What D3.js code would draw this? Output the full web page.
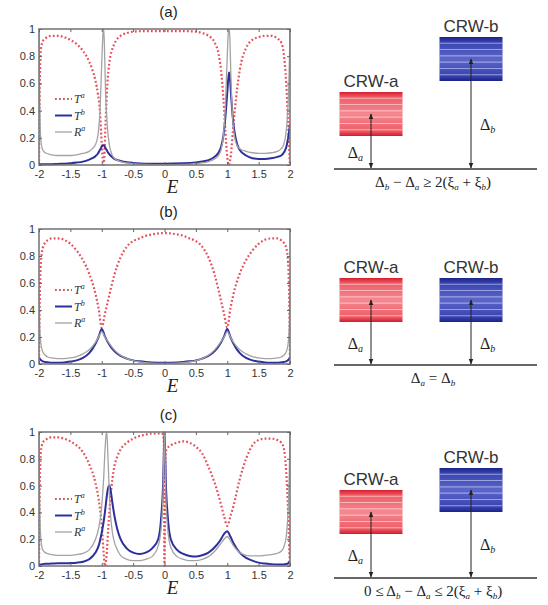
<!DOCTYPE html>
<html><head><meta charset="utf-8">
<script src="https://cdn.jsdelivr.net/npm/d3@7"></script>
<style>body{margin:0;background:#fff}svg{display:block}</style>
</head><body><svg id="c" width="548" height="605"></svg>
<script>
// ---------- data ----------
const E_a  = [-2,-1.99,-1.97,-1.94,-1.9,-1.8,-1.7,-1.6,-1.5,-1.4,-1.3,-1.2,-1.15,-1.1,-1.06,-1.03,-1.0,-0.98,-0.97,-0.96,-0.94,-0.91,-0.88,-0.84,-0.8,-0.7,-0.6,-0.5,-0.3,0,0.3,0.5,0.6,0.7,0.8,0.86,0.9,0.94,0.97,1.0,1.02,1.03,1.04,1.06,1.09,1.12,1.16,1.2,1.3,1.4,1.5,1.6,1.7,1.8,1.86,1.9,1.94,1.97,1.99,2];
const Ta_a = [0,0.5,0.85,0.91,0.93,0.95,0.95,0.94,0.92,0.89,0.84,0.76,0.7,0.62,0.52,0.4,0.15,0.02,0,0.05,0.3,0.6,0.75,0.84,0.89,0.95,0.97,0.98,0.985,0.985,0.985,0.98,0.97,0.95,0.9,0.82,0.7,0.48,0.25,0.06,0,0,0.02,0.08,0.25,0.4,0.57,0.7,0.86,0.92,0.94,0.95,0.95,0.93,0.9,0.82,0.6,0.3,0.08,0];
const Tb_a = [0.005,0.005,0.005,0.005,0.005,0.006,0.008,0.01,0.013,0.018,0.025,0.04,0.05,0.065,0.085,0.11,0.135,0.145,0.145,0.14,0.125,0.1,0.08,0.06,0.045,0.03,0.02,0.015,0.01,0.01,0.012,0.018,0.025,0.035,0.06,0.09,0.13,0.22,0.35,0.53,0.65,0.68,0.66,0.52,0.34,0.23,0.15,0.11,0.07,0.05,0.045,0.045,0.05,0.06,0.07,0.09,0.13,0.2,0.26,0.3];
const Ra_a = [1.0,0.5,0.18,0.11,0.09,0.075,0.07,0.07,0.07,0.075,0.085,0.1,0.12,0.15,0.22,0.38,0.75,0.97,1.0,0.92,0.55,0.28,0.15,0.08,0.05,0.025,0.015,0.01,0.005,0.003,0.005,0.01,0.015,0.025,0.045,0.07,0.11,0.22,0.42,0.8,0.99,1.0,0.95,0.62,0.32,0.2,0.14,0.12,0.1,0.09,0.085,0.085,0.09,0.1,0.12,0.15,0.25,0.45,0.75,1.0];

const E_b  = [-2,-1.99,-1.97,-1.94,-1.9,-1.85,-1.8,-1.7,-1.6,-1.5,-1.4,-1.3,-1.2,-1.1,-1.05,-1.0,-0.95,-0.9,-0.8,-0.7,-0.6,-0.5,-0.4,-0.3,-0.2,0,0.2,0.3,0.4,0.5,0.6,0.7,0.8,0.9,0.95,1.0,1.05,1.1,1.2,1.3,1.4,1.5,1.6,1.7,1.8,1.85,1.9,1.94,1.97,1.99,2];
const Ta_b = [0,0.4,0.75,0.86,0.9,0.92,0.93,0.93,0.92,0.89,0.84,0.77,0.67,0.52,0.41,0.27,0.37,0.47,0.66,0.79,0.87,0.91,0.93,0.95,0.96,0.97,0.96,0.95,0.93,0.91,0.87,0.79,0.66,0.47,0.37,0.27,0.41,0.52,0.67,0.77,0.84,0.89,0.92,0.93,0.93,0.92,0.9,0.86,0.75,0.4,0];
const Tb_b = [0.05,0.04,0.03,0.02,0.015,0.012,0.01,0.01,0.012,0.018,0.027,0.045,0.08,0.15,0.2,0.26,0.205,0.16,0.095,0.06,0.04,0.027,0.02,0.015,0.012,0.01,0.012,0.015,0.02,0.027,0.04,0.06,0.095,0.16,0.205,0.26,0.2,0.15,0.08,0.045,0.027,0.018,0.012,0.01,0.01,0.012,0.015,0.02,0.03,0.04,0.05];
const Ra_b = [0.5,0.3,0.15,0.09,0.065,0.05,0.045,0.04,0.04,0.045,0.055,0.075,0.105,0.16,0.2,0.24,0.2,0.165,0.105,0.065,0.04,0.025,0.015,0.01,0.007,0.005,0.007,0.01,0.015,0.025,0.04,0.065,0.105,0.165,0.2,0.24,0.2,0.16,0.105,0.075,0.055,0.045,0.04,0.04,0.045,0.05,0.065,0.09,0.15,0.3,0.5];

const E_c  = [-2,-1.99,-1.97,-1.94,-1.9,-1.8,-1.7,-1.6,-1.5,-1.4,-1.3,-1.2,-1.1,-1.05,-1.0,-0.97,-0.95,-0.93,-0.92,-0.9,-0.88,-0.86,-0.83,-0.8,-0.75,-0.7,-0.6,-0.5,-0.4,-0.3,-0.2,-0.1,-0.05,-0.02,-0.01,0,0.01,0.02,0.05,0.1,0.2,0.3,0.4,0.5,0.6,0.7,0.8,0.9,0.95,1.0,1.05,1.1,1.2,1.3,1.4,1.5,1.6,1.7,1.8,1.86,1.9,1.94,1.97,1.99,2];
const Ta_c = [0,0.5,0.85,0.92,0.94,0.96,0.96,0.95,0.93,0.9,0.85,0.76,0.62,0.5,0.3,0.1,0,0.05,0.1,0.25,0.4,0.52,0.65,0.74,0.82,0.87,0.92,0.95,0.97,0.98,0.99,0.99,0.99,0.98,0.9,0,0.6,0.85,0.88,0.9,0.92,0.93,0.92,0.89,0.84,0.74,0.62,0.46,0.37,0.3,0.37,0.45,0.65,0.8,0.9,0.94,0.95,0.95,0.94,0.92,0.88,0.7,0.4,0.1,0];
const Tb_c = [0.01,0.01,0.012,0.014,0.016,0.018,0.02,0.02,0.022,0.025,0.032,0.05,0.1,0.15,0.25,0.33,0.4,0.48,0.52,0.58,0.6,0.57,0.47,0.38,0.27,0.2,0.13,0.1,0.09,0.1,0.13,0.2,0.38,0.65,0.85,1.0,0.85,0.65,0.38,0.2,0.12,0.09,0.075,0.07,0.08,0.1,0.14,0.2,0.24,0.26,0.22,0.17,0.1,0.06,0.04,0.025,0.018,0.014,0.012,0.012,0.012,0.015,0.02,0.03,0.03];
const Ra_c = [1.0,0.5,0.2,0.12,0.1,0.085,0.08,0.08,0.08,0.085,0.095,0.12,0.2,0.28,0.45,0.65,0.85,0.98,1.0,0.8,0.55,0.38,0.25,0.18,0.12,0.08,0.05,0.04,0.04,0.05,0.07,0.15,0.3,0.6,0.85,1.0,0.8,0.55,0.28,0.14,0.07,0.05,0.04,0.04,0.05,0.07,0.11,0.17,0.2,0.22,0.19,0.15,0.1,0.08,0.075,0.075,0.08,0.085,0.095,0.11,0.14,0.22,0.42,0.72,1.0];

const xTicks = [-2,-1.5,-1,-0.5,0,0.5,1,1.5,2];
const xTickLabels = ["-2","-1.5","-1","-0.5","0","0.5","1","1.5","2"];
const yTicks = [0,0.2,0.4,0.6,0.8,1];
const yTickLabels = ["0","0.2","0.4","0.6","0.8","1"];
const panelTitles = ["(a)","(b)","(c)"];
const seriesNames = [["T","a"],["T","b"],["R","a"]];
const crwLabels = ["CRW-a","CRW-b"];
// schematic level heights (arbitrary units) and band half-widths
const deltaA = [55, 65, 66];
const deltaB = [110, 65, 88];
const bandHalf = [22, 22, 22];

// ---------- layout ----------
const svg = d3.select("#c");
const plotL = 39, plotR = 290;
const tops = [29, 229, 432], bottoms = [165, 364, 566];
const legendOff = [70, 61, 67];
const baselines = [169, 365, 578];
const sans = "'Liberation Sans', Arial, sans-serif";
const serif = "'Liberation Serif', 'Times New Roman', serif";

const panels = [
  {E:E_a, s:[Ta_a,Tb_a,Ra_a]},
  {E:E_b, s:[Ta_b,Tb_b,Ra_b]},
  {E:E_c, s:[Ta_c,Tb_c,Ra_c]}
];
const styles = [
  {stroke:"#e4505a", width:2.2, dash:"1.8,2.2"},
  {stroke:"#2c2f9c", width:2.0, dash:null},
  {stroke:"#a3a3a3", width:1.3, dash:null}
];

const defs = svg.append("defs");
const gr = defs.append("linearGradient").attr("id","gRed").attr("x1",0).attr("y1",0).attr("x2",0).attr("y2",1);
gr.append("stop").attr("offset","0").attr("stop-color","#d81c30");
gr.append("stop").attr("offset","0.12").attr("stop-color","#ee5e68");
gr.append("stop").attr("offset","0.5").attr("stop-color","#f48890");
gr.append("stop").attr("offset","0.88").attr("stop-color","#ee5e68");
gr.append("stop").attr("offset","1").attr("stop-color","#d41a2c");
const gb = defs.append("linearGradient").attr("id","gBlue").attr("x1",0).attr("y1",0).attr("x2",0).attr("y2",1);
gb.append("stop").attr("offset","0").attr("stop-color","#1c2288");
gb.append("stop").attr("offset","0.12").attr("stop-color","#3a44b0");
gb.append("stop").attr("offset","0.5").attr("stop-color","#5c66c8");
gb.append("stop").attr("offset","0.88").attr("stop-color","#3a44b0");
gb.append("stop").attr("offset","1").attr("stop-color","#1c2288");
defs.append("marker").attr("id","arr").attr("viewBox","0 0 10 10")
  .attr("refX",9).attr("refY",5).attr("markerWidth",6).attr("markerHeight",6)
  .attr("orient","auto-start-reverse")
  .append("path").attr("d","M0,1 L10,5 L0,9 z").attr("fill","#222");

panels.forEach((p, i) => {
  const x = d3.scaleLinear().domain([-2,2]).range([plotL, plotR]);
  const y = d3.scaleLinear().domain([0,1]).range([bottoms[i], tops[i]]);
  const g = svg.append("g");
  const cid = "clip"+i;
  defs.append("clipPath").attr("id",cid).append("rect")
    .attr("x",plotL).attr("y",tops[i]-1).attr("width",plotR-plotL).attr("height",bottoms[i]-tops[i]+2);

  g.append("text").attr("x",(plotL+plotR)/2+4).attr("y",tops[i]-12)
    .attr("text-anchor","middle").attr("font-family",sans).attr("font-size",15)
    .attr("fill","#222").text(panelTitles[i]);

  const lg = g.append("g").attr("clip-path",`url(#${cid})`);
  p.s.forEach((vals, k) => {
    const line = d3.line().x((d,j)=>x(p.E[j])).y(d=>y(d)).curve(d3.curveMonotoneX);
    const path = lg.append("path").datum(vals).attr("d",line).attr("fill","none")
      .attr("stroke",styles[k].stroke).attr("stroke-width",styles[k].width)
      .attr("stroke-linejoin","round");
    if (styles[k].dash) path.attr("stroke-dasharray",styles[k].dash);
  });

  g.append("rect").attr("x",plotL).attr("y",tops[i]).attr("width",plotR-plotL)
    .attr("height",bottoms[i]-tops[i]).attr("fill","none").attr("stroke","#7a7a7a").attr("stroke-width",1.6);

  const xb = d3.axisBottom(x).tickValues(xTicks).tickSize(-3).tickPadding(5)
    .tickFormat((d,j)=>xTickLabels[j]);
  const xa = g.append("g").attr("transform",`translate(0,${bottoms[i]})`).call(xb);
  const xt = g.append("g").attr("transform",`translate(0,${tops[i]})`).call(d3.axisTop(x).tickValues(xTicks).tickSize(-3).tickFormat(""));
  const yl = d3.axisLeft(y).tickValues(yTicks).tickSize(-3).tickPadding(4)
    .tickFormat((d,j)=>yTickLabels[j]);
  const ya = g.append("g").attr("transform",`translate(${plotL},0)`).call(yl);
  const yr = g.append("g").attr("transform",`translate(${plotR},0)`).call(d3.axisRight(y).tickValues(yTicks).tickSize(-3).tickFormat(""));
  [xa,xt,ya,yr].forEach(a=>{
    a.select(".domain").remove();
    a.selectAll(".tick line").attr("stroke","#666");
    a.selectAll("text").attr("font-family",sans).attr("font-size",11).attr("fill","#333");
  });

  g.append("text").attr("x",(plotL+plotR)/2+8).attr("y",bottoms[i]+28)
    .attr("text-anchor","middle").attr("font-family",serif).attr("font-style","italic")
    .attr("font-size",19).attr("fill","#222").text("E");

  seriesNames.forEach((nm,k)=>{
    const ly = tops[i]+legendOff[i]+k*16.5;
    const l = g.append("line").attr("x1",55).attr("x2",72).attr("y1",ly).attr("y2",ly)
      .attr("stroke",styles[k].stroke).attr("stroke-width",styles[k].width);
    if (styles[k].dash) l.attr("stroke-dasharray",styles[k].dash);
    const t = g.append("text").attr("x",74).attr("y",ly+4).attr("font-family",serif)
      .attr("font-style","italic").attr("font-size",12).attr("fill","#333");
    t.append("tspan").text(nm[0]);
    t.append("tspan").attr("dy",-5).attr("font-size",8).text(nm[1]);
  });

  // ---------- schematic ----------
  const base = baselines[i];
  const yd = d3.scaleLinear().domain([0,1]).range([base, base-1]);
  const xd = d3.scalePoint().domain(crwLabels).range([371, 471]);
  const bw = 63;
  const sg = svg.append("g");
  sg.append("line").attr("x1",334).attr("x2",537).attr("y1",base).attr("y2",base)
    .attr("stroke","#333").attr("stroke-width",1.6);
  const levels = [deltaA[i], deltaB[i]];
  crwLabels.forEach((lab, k) => {
    const cx = xd(lab), lev = levels[k], h = bandHalf[i];
    const top = yd(lev + h), bot = yd(lev - h);
    sg.append("rect").attr("x",cx-bw/2).attr("y",top).attr("width",bw).attr("height",bot-top)
      .attr("fill", k===0 ? "url(#gRed)" : "url(#gBlue)");
    d3.range(1,7).forEach(m=>{
      const yy = top + (bot-top)*m/7;
      sg.append("line").attr("x1",cx-bw/2).attr("x2",cx+bw/2).attr("y1",yy).attr("y2",yy)
        .attr("stroke", k===0 ? "#fbc4c8" : "#a9b0ea").attr("stroke-width",1.1).attr("opacity",0.85);
    });
    sg.append("text").attr("x",cx).attr("y",top-5).attr("text-anchor","middle")
      .attr("font-family",sans).attr("font-size",17).attr("fill","#333").text(lab);
    sg.append("line").attr("x1",cx).attr("x2",cx).attr("y1",base-1).attr("y2",yd(lev))
      .attr("stroke","#222").attr("stroke-width",1)
      .attr("marker-start","url(#arr)").attr("marker-end","url(#arr)");
    const my = (base + bot)/2;
    const dt = sg.append("text").attr("y",my+5).attr("font-family",serif).attr("font-size",16).attr("fill","#222");
    if (k===0) dt.attr("x",cx-8).attr("text-anchor","end"); else dt.attr("x",cx+9);
    dt.append("tspan").text("Δ");
    dt.append("tspan").attr("dy",3).attr("font-size",10).attr("font-style","italic").text(k===0?"a":"b");
  });

  const ct = sg.append("text").attr("x",433).attr("y",base+18).attr("text-anchor","middle")
    .attr("font-family",serif).attr("font-size",15).attr("fill","#222");
  const parts = [
    [["Δ",""],["b","s"],[" − Δ",""],["a","s"],[" ≥ 2(ξ",""],["a","s"],[" + ξ",""],["b","s"],[")",""]],
    [["Δ",""],["a","s"],[" = Δ",""],["b","s"]],
    [["0 ≤ Δ",""],["b","s"],[" − Δ",""],["a","s"],[" ≤ 2(ξ",""],["a","s"],[" + ξ",""],["b","s"],[")",""]]
  ][i];
  let shifted = false;
  parts.forEach(([txt,typ])=>{
    const ts = ct.append("tspan").text(txt);
    if (typ==="s") { ts.attr("dy",3).attr("font-size",9).attr("font-style","italic"); shifted = true; }
    else if (shifted) { ts.attr("dy",-3); shifted = false; }
  });
});
</script>
</body></html>
